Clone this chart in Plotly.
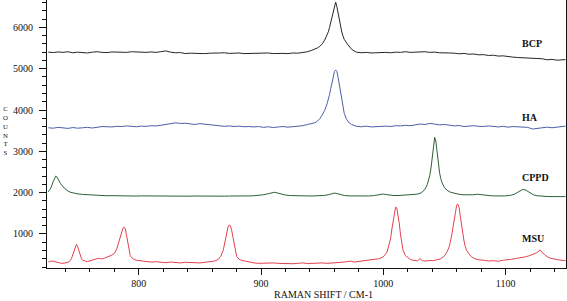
import plotly.graph_objects as go

# ---------------- data ----------------
BCP_HA_SHIFT = [
    726, 730, 734, 738, 742, 746, 750, 754, 758, 762, 766, 770, 774, 778,
    782, 786, 790, 794, 798, 802, 806, 810, 814, 818, 822, 826, 830, 834,
    838, 842, 846, 850, 854, 858, 862, 866, 870, 874, 878, 882, 886, 890,
    894, 898, 902, 906, 910, 914, 918, 922, 926, 930, 934, 938,
    941, 944, 946, 948, 950, 952, 954, 955, 956, 957, 958, 959, 960, 961, 962, 963, 964, 965, 966, 967, 968,
    970, 972, 974, 976, 978,
    982, 986, 990, 994, 998, 1002, 1006, 1010, 1014, 1018, 1022, 1026, 1030, 1034, 1038, 1042, 1046, 1050, 1054, 1058, 1062, 1066, 1070, 1074, 1078,
    1082, 1086, 1090, 1094, 1098, 1102, 1106, 1110, 1114, 1118, 1122, 1126, 1130, 1134, 1138, 1142, 1146,
    1149,
]
BCP_COUNTS = [
    5400, 5390, 5405, 5395, 5410, 5385, 5400, 5395, 5380, 5400, 5410, 5395, 5390, 5405,
    5400, 5385, 5395, 5410, 5400, 5390, 5395, 5405, 5395, 5410, 5430, 5400, 5385, 5390,
    5365, 5375, 5370, 5380, 5365, 5375, 5370, 5380, 5385, 5370, 5375, 5380, 5365, 5370,
    5375, 5365, 5370, 5380, 5365, 5375, 5370, 5365, 5380, 5375, 5385, 5410,
    5440, 5470, 5500, 5540, 5600, 5690, 5810, 5890, 6000, 6130, 6270, 6420, 6560, 6610, 6500, 6340, 6170, 6020, 5890, 5790, 5710,
    5620, 5540, 5470, 5430, 5400,
    5385, 5395, 5380, 5390, 5400, 5395, 5385, 5400, 5395, 5410, 5395, 5405, 5400, 5410, 5395, 5400, 5385, 5390, 5380, 5375, 5360, 5370, 5350, 5355, 5335,
    5340, 5320, 5325, 5305, 5310, 5290, 5280, 5270, 5265, 5250, 5245, 5235, 5240, 5215, 5225, 5205, 5215,
    5220,
]
HA_COUNTS = [
    3570, 3560, 3580, 3565, 3555, 3575, 3560, 3570, 3580, 3565, 3585, 3600, 3595, 3590,
    3605, 3600, 3615, 3600, 3595, 3610, 3605, 3620, 3615, 3630, 3645, 3670, 3690, 3675,
    3680, 3665, 3650, 3670, 3660, 3640, 3635, 3620, 3605, 3615, 3600, 3610, 3595, 3600,
    3590, 3600, 3580, 3595, 3575, 3590, 3600, 3585, 3595, 3610, 3620, 3650,
    3670, 3690, 3730, 3790, 3880, 3990, 4150, 4250, 4380, 4520, 4680, 4830, 4930, 4970, 4930, 4790, 4620, 4430, 4240, 4060, 3920,
    3770, 3690, 3650, 3620, 3605,
    3595, 3610, 3590, 3600, 3595, 3610, 3600, 3620, 3615, 3630, 3620, 3640, 3660, 3650, 3675, 3660, 3640, 3650, 3630, 3615, 3625, 3600, 3610, 3620, 3605,
    3600, 3615, 3595, 3590, 3605, 3585, 3600, 3590, 3575, 3580, 3540, 3560, 3575, 3585, 3570, 3590, 3605,
    3610,
]

CPPD_SHIFT = [
    726, 728, 730, 731, 732, 733, 734, 736, 738, 740,
    742, 744, 746, 748, 750, 754, 758, 762, 766, 770,
    774, 778, 782, 786, 790, 794, 798, 802, 806, 810,
    814, 818, 822, 826, 830, 834, 838, 842, 846, 850,
    854, 858, 862, 866, 870, 874, 878, 882, 886, 890,
    894, 898, 902, 906, 909, 911, 913, 916, 920, 924,
    928, 932, 936, 940, 944, 948, 952, 955, 958, 960,
    962, 965, 968, 972, 976, 980, 984, 988, 992, 995,
    998, 1000, 1002, 1005, 1008, 1012, 1016, 1020, 1024, 1028,
    1031, 1034, 1036, 1037, 1038, 1039, 1040, 1041, 1042, 1043,
    1044, 1045, 1046, 1047, 1048, 1050, 1052, 1055, 1058, 1062,
    1066, 1070, 1074, 1077, 1080, 1084, 1088, 1092, 1096, 1100,
    1104, 1107, 1110, 1112, 1114, 1116, 1118, 1120, 1123, 1126,
    1130, 1134, 1138, 1142, 1146, 1149,
]
CPPD_COUNTS = [
    2020, 2110, 2270, 2360, 2400, 2380, 2320, 2220, 2140, 2080,
    2040, 2010, 1995, 1980, 1970, 1958, 1948, 1940, 1932, 1928,
    1925, 1927, 1922, 1925, 1920, 1923, 1918, 1922, 1920, 1917,
    1921, 1918, 1922, 1919, 1916, 1920, 1918, 1915, 1919, 1916,
    1920, 1917, 1914, 1918, 1915, 1919, 1916, 1920, 1917, 1921,
    1925, 1935, 1950, 1975, 2000, 2010, 1995, 1965, 1942, 1930,
    1924, 1920, 1918, 1920, 1922, 1925, 1935, 1950, 1975, 1990,
    1980, 1950, 1932, 1922, 1918, 1915, 1917, 1920, 1928, 1940,
    1958, 1968, 1955, 1940, 1932, 1930, 1935, 1940, 1948, 1965,
    1995, 2080, 2200, 2300, 2420, 2600, 2850, 3110, 3340, 3230,
    2950, 2680, 2480, 2340, 2240, 2120, 2060, 2010, 1985, 1960,
    1948, 1942, 1950, 1962, 1950, 1935, 1925, 1920, 1918, 1922,
    1935, 1960, 2010, 2050, 2078, 2070, 2030, 1985, 1945, 1925,
    1912, 1907, 1905, 1903, 1905, 1904,
]

MSU_SHIFT = [
    726, 728, 730, 732, 734, 736, 738, 740, 742, 744,
    745, 746, 747, 748, 749, 750, 751, 752, 753, 754,
    756, 758, 760, 762, 764, 766, 768, 770, 772, 774,
    776, 778, 780, 781, 782, 783, 784, 785, 786, 787,
    788, 789, 790, 791, 792, 793, 794, 796, 798, 800,
    802, 806, 810, 814, 818, 822, 826, 830, 834, 838,
    842, 846, 850, 854, 858, 862, 865, 867, 869, 870,
    871, 872, 873, 874, 875, 876, 877, 878, 879, 880,
    882, 884, 887, 890, 894, 898, 902, 906, 910, 914,
    918, 922, 926, 930, 934, 938, 942, 946, 950, 954,
    958, 962, 966, 970, 973, 976, 980, 984, 988, 992,
    996, 999, 1001, 1003, 1005, 1006, 1007, 1008, 1009, 1010,
    1011, 1012, 1013, 1014, 1015, 1016, 1018, 1020, 1022, 1025,
    1028, 1030, 1032, 1035, 1038, 1041, 1044, 1047, 1050, 1052,
    1054, 1055, 1056, 1057, 1058, 1059, 1060, 1061, 1062, 1063,
    1064, 1065, 1066, 1067, 1068, 1070, 1072, 1075, 1078, 1082,
    1086, 1090, 1094, 1098, 1101, 1104, 1108, 1112, 1116, 1119,
    1122, 1125, 1127, 1128, 1129, 1130, 1132, 1134, 1137, 1140,
    1144, 1147, 1149,
]
MSU_COUNTS = [
    320, 345, 340, 320, 305, 295, 290, 300, 314, 360,
    411, 500, 600, 700, 750, 690, 580, 470, 410, 365,
    340, 330, 350, 370, 390, 405, 410, 395, 415, 435,
    460, 490, 530, 570, 640, 740, 850, 960, 1060, 1140,
    1165, 1120, 960, 760, 600, 480, 430, 385, 365, 355,
    350, 335, 320, 330, 315, 305, 320, 310, 300, 315,
    305, 310, 300, 315, 325, 345, 385, 460, 600, 760,
    920, 1050, 1170, 1220, 1190, 1080, 900, 720, 560, 460,
    390, 360, 345, 320, 300, 290, 295, 285, 300, 290,
    285, 295, 280, 290, 300, 285, 295, 290, 300, 290,
    295, 305, 315, 330, 345, 320, 335, 345, 360, 370,
    400, 430, 480, 560, 760, 900, 1120, 1340, 1530, 1650,
    1630, 1480, 1260, 1000, 780, 620, 480, 420, 385, 360,
    350, 405, 355, 345, 360, 355, 370, 400, 470, 560,
    700, 820, 980, 1170, 1380, 1570, 1700, 1725, 1640, 1420,
    1180, 980, 830, 700, 610, 520, 450, 400, 375, 365,
    345, 355, 340, 365, 370, 385, 405, 420, 445, 470,
    500, 540, 580, 615, 590, 545, 500, 450, 410, 385,
    370, 360, 355,
]

assert len(BCP_HA_SHIFT) == len(BCP_COUNTS) == len(HA_COUNTS)
assert len(CPPD_SHIFT) == len(CPPD_COUNTS)
assert len(MSU_SHIFT) == len(MSU_COUNTS)

SAMPLE_NAMES = ["BCP", "HA", "CPPD", "MSU"]
LABEL_Y = [5620, 3810, 2355, 880]
LABEL_X = 1112
X_TICKS = [800, 900, 1000, 1100]
Y_TICKS = [1000, 2000, 3000, 4000, 5000, 6000]

COLORS = {"BCP": "#262626", "HA": "#4d5fa9", "CPPD": "#2f6136", "MSU": "#e3414f"}
SERIF = "Liberation Serif"

fig = go.Figure()
series = [
    ("BCP", BCP_HA_SHIFT, BCP_COUNTS),
    ("HA", BCP_HA_SHIFT, HA_COUNTS),
    ("CPPD", CPPD_SHIFT, CPPD_COUNTS),
    ("MSU", MSU_SHIFT, MSU_COUNTS),
]
for name, xs, ys in series:
    fig.add_trace(go.Scatter(x=xs, y=ys, mode="lines", name=name,
                             line=dict(color=COLORS[name], width=1),
                             showlegend=False, hoverinfo="skip"))

for name, ly in zip(SAMPLE_NAMES, LABEL_Y):
    fig.add_annotation(x=LABEL_X, y=ly, xref="x", yref="y", text="<b>%s</b>" % name,
                       showarrow=False, xanchor="left", yanchor="middle",
                       font=dict(family=SERIF, size=10, color="#111111"))

# axis titles
fig.add_annotation(x=0.532, y=0, xref="paper", yref="paper", yshift=-26,
                   text="RAMAN SHIFT / CM-1", showarrow=False,
                   xanchor="center", yanchor="middle",
                   font=dict(family=SERIF, size=10, color="#111111"))
fig.add_annotation(x=0, y=0, xref="paper", yref="paper",
                   xshift=-42, yshift=268 - 130,
                   text="C<br>O<br>U<br>N<br>T<br>S", showarrow=False,
                   xanchor="center", yanchor="middle",
                   font=dict(family=SERIF, size=6.8, color="#111111"))

fig.update_layout(
    width=567, height=301,
    margin=dict(l=47, r=1, t=0, b=33, autoexpand=False),
    paper_bgcolor="white", plot_bgcolor="white",
    font=dict(family=SERIF, size=10, color="#111111"),
    xaxis=dict(range=[724.9, 1149.4], tickvals=X_TICKS, ticks="outside", ticklen=6,
               tickcolor="#111111", showline=True, linecolor="#111111", linewidth=1,
               showgrid=False, zeroline=False, automargin=False,
               minor=dict(dtick=20, tick0=720, ticks="outside", ticklen=3, tickcolor="#111111"),
               tickfont=dict(family=SERIF, size=10)),
    yaxis=dict(range=[177, 6662], tickvals=Y_TICKS, ticks="outside", ticklen=7,
               tickcolor="#111111", showline=True, linecolor="#111111", linewidth=1,
               mirror=True, showgrid=False, zeroline=False, automargin=False,
               minor=dict(dtick=200, tick0=0, ticks="outside", ticklen=4, tickcolor="#111111"),
               tickfont=dict(family=SERIF, size=10), ticklabelstandoff=4),
)

fig.write_html("out.html", config={"displayModeBar": False, "staticPlot": True},
               post_script="document.body.style.margin='0';document.body.style.padding='0';")
